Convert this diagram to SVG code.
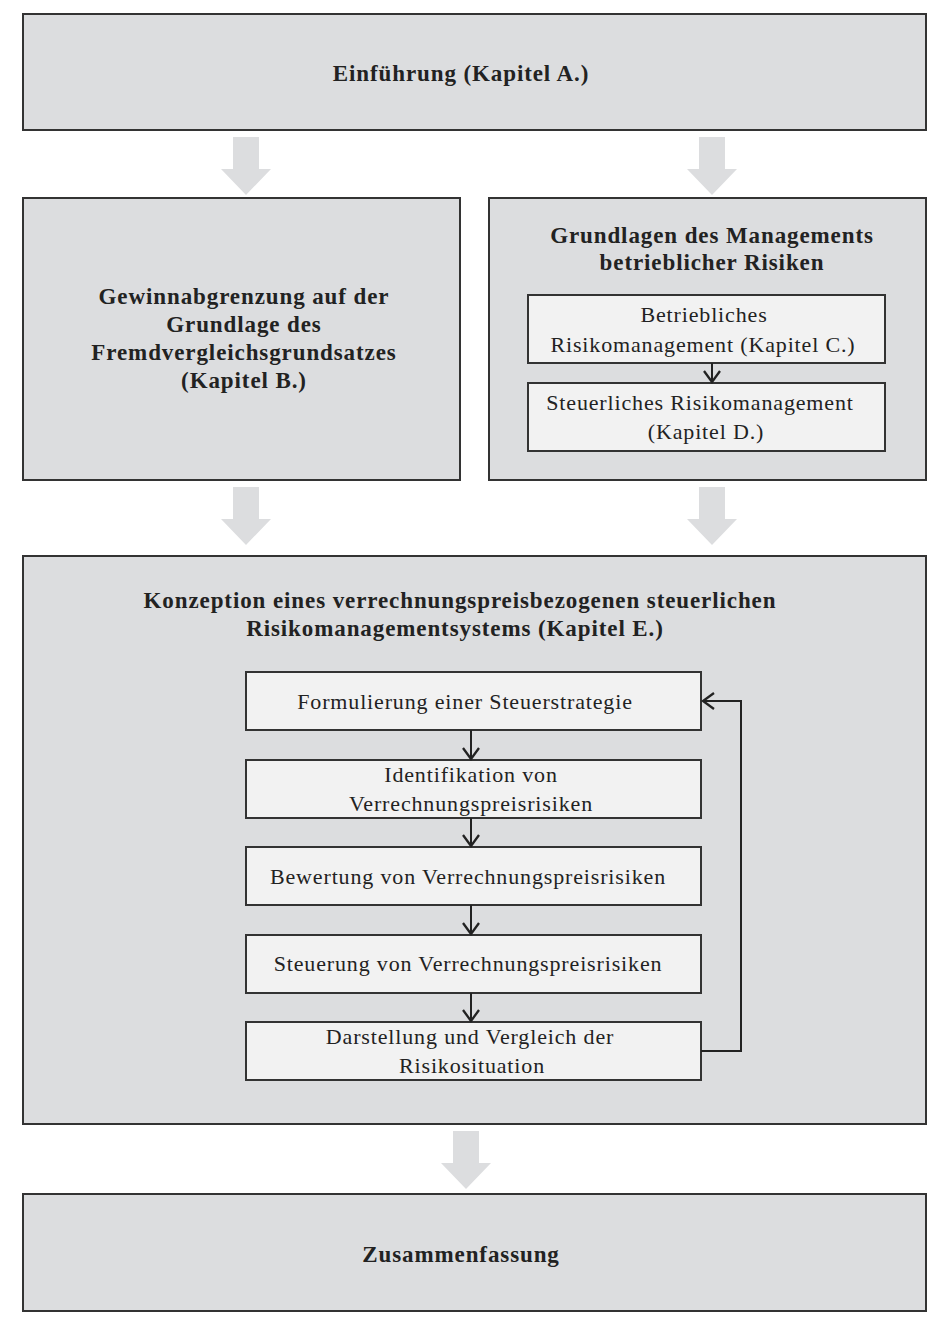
<svg xmlns="http://www.w3.org/2000/svg" width="948" height="1342" viewBox="0 0 948 1342">
<defs>
<style>
.outer{fill:#dcdddf;stroke:#333;stroke-width:2}
.inner{fill:#f2f2f2;stroke:#333;stroke-width:2}
.t{font-family:"Liberation Serif","DejaVu Serif",serif;font-size:22px;letter-spacing:0.85px;fill:#222;text-anchor:middle}
.b{font-weight:bold;font-size:23px;letter-spacing:0.9px}
.blk{fill:#dcdddf}
.ln{fill:none;stroke:#222;stroke-width:2}
</style>
<marker id="v" viewBox="0 0 14 18" refX="12" refY="9" markerWidth="14" markerHeight="18" markerUnits="userSpaceOnUse" orient="auto">
<path d="M1,1 L12,9 L1,17" fill="none" stroke="#222" stroke-width="2.3"/>
</marker>
<path id="ba" d="M-13,0 H13 V32 H25 L0,58 L-25,32 H-13 Z"/>
</defs>
<g id="n-einfuehrung">
<rect class="outer" x="23" y="14" width="903" height="116"/>
<text class="t b" x="461" y="81">Einführung (Kapitel A.)</text>
</g>
<g id="n-gewinn">
<rect class="outer" x="23" y="198" width="437" height="282"/>
<text class="t b" x="244" y="304">Gewinnabgrenzung auf der</text>
<text class="t b" x="244" y="332">Grundlage des</text>
<text class="t b" x="244" y="360">Fremdvergleichsgrundsatzes</text>
<text class="t b" x="244" y="388">(Kapitel B.)</text>
</g>
<g id="n-grundlagen">
<rect class="outer" x="489" y="198" width="437" height="282"/>
<text class="t b" x="712" y="243">Grundlagen des Managements</text>
<text class="t b" x="712" y="270">betrieblicher Risiken</text>
</g>
<g id="n-kapC">
<rect class="inner" x="528" y="295" width="357" height="68"/>
<text class="t" x="704" y="322">Betriebliches</text>
<text class="t" x="703" y="352">Risikomanagement (Kapitel C.)</text>
</g>
<g id="n-kapD">
<rect class="inner" x="528" y="383" width="357" height="68"/>
<text class="t" x="700" y="410">Steuerliches Risikomanagement</text>
<text class="t" x="706" y="439">(Kapitel D.)</text>
</g>
<g id="n-konzeption">
<rect class="outer" x="23" y="556" width="903" height="568"/>
<text class="t b" x="460" y="608">Konzeption eines verrechnungspreisbezogenen steuerlichen</text>
<text class="t b" x="455" y="636">Risikomanagementsystems (Kapitel E.)</text>
</g>
<g id="n-formulierung">
<rect class="inner" x="246" y="672" width="455" height="58"/>
<text class="t" x="465" y="709">Formulierung einer Steuerstrategie</text>
</g>
<g id="n-identifikation">
<rect class="inner" x="246" y="760" width="455" height="58"/>
<text class="t" x="471" y="782">Identifikation von</text>
<text class="t" x="471" y="811">Verrechnungspreisrisiken</text>
</g>
<g id="n-bewertung">
<rect class="inner" x="246" y="847" width="455" height="58"/>
<text class="t" x="468" y="884">Bewertung von Verrechnungspreisrisiken</text>
</g>
<g id="n-steuerung">
<rect class="inner" x="246" y="935" width="455" height="58"/>
<text class="t" x="468" y="971">Steuerung von Verrechnungspreisrisiken</text>
</g>
<g id="n-darstellung">
<rect class="inner" x="246" y="1022" width="455" height="58"/>
<text class="t" x="470" y="1044">Darstellung und Vergleich der</text>
<text class="t" x="472" y="1073">Risikosituation</text>
</g>
<g id="n-zusammenfassung">
<rect class="outer" x="23" y="1194" width="903" height="117"/>
<text class="t b" x="461" y="1262">Zusammenfassung</text>
</g>
<g id="connectors">
<use href="#ba" class="blk" x="246" y="137"/>
<use href="#ba" class="blk" x="712" y="137"/>
<use href="#ba" class="blk" x="246" y="487"/>
<use href="#ba" class="blk" x="712" y="487"/>
<use href="#ba" class="blk" x="466" y="1131"/>
<line class="ln" x1="712" y1="363" x2="712" y2="382" marker-end="url(#v)"/>
<line class="ln" x1="471" y1="730" x2="471" y2="759" marker-end="url(#v)"/>
<line class="ln" x1="471" y1="818" x2="471" y2="846" marker-end="url(#v)"/>
<line class="ln" x1="471" y1="905" x2="471" y2="934" marker-end="url(#v)"/>
<line class="ln" x1="471" y1="993" x2="471" y2="1021" marker-end="url(#v)"/>
<polyline class="ln" points="701,1051 741,1051 741,701 703,701" marker-end="url(#v)"/>
</g>
</svg>
